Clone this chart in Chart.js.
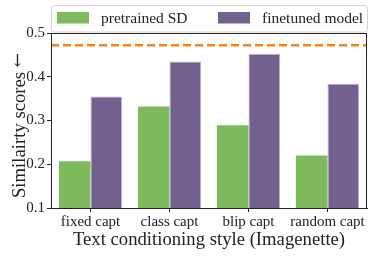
<!DOCTYPE html>
<html>
<head>
<meta charset="utf-8">
<script src="https://cdn.jsdelivr.net/npm/chart.js@4/dist/chart.umd.min.js"></script>
<style>
  html, body { margin: 0; padding: 0; background: #fff; }
  #wrap { width: 374px; height: 256px; }
</style>
</head>
<body>
<div id="wrap"><canvas id="chart"></canvas></div>
<script>
// Data
const categories = ["fixed capt", "class capt", "blip capt", "random capt"];
const pretrainedSD = [0.207, 0.332, 0.289, 0.220];
const finetunedModel = [0.355, 0.435, 0.452, 0.384];
const referenceLevel = 0.472;
const yTicks = [0.1, 0.2, 0.3, 0.4, 0.5];
const yTitle = "Similairty scores";
const yArrow = "\u2190";

const serif = "'Liberation Serif', 'DejaVu Serif', serif";
const ink = "#222";

// Dashed reference line, frame round the plot, y title and a framed legend
const extrasPlugin = {
    id: "extras",
    beforeDatasetsDraw(chart) {
        const ctx = chart.ctx;
        const area = chart.chartArea;
        const y = chart.scales.y.getPixelForValue(referenceLevel);
        ctx.save();
        ctx.strokeStyle = "#ff7f0e";
        ctx.lineWidth = 2.5;
        ctx.setLineDash([8, 4]);
        ctx.beginPath();
        ctx.moveTo(area.left, y);
        ctx.lineTo(area.right, y);
        ctx.stroke();
        ctx.restore();
    },
    afterDraw(chart) {
        const ctx = chart.ctx;
        const area = chart.chartArea;
        ctx.save();
        ctx.strokeStyle = ink;
        ctx.lineWidth = 1;
        ctx.strokeRect(area.left + 0.5, area.top + 0.5, area.right - area.left - 1, area.bottom - area.top);

        // y title: text in serif, arrow in DejaVu so it keeps a readable size
        ctx.save();
        ctx.translate(19, (area.top + area.bottom) / 2 + 5);
        ctx.rotate(-Math.PI / 2);
        ctx.fillStyle = ink;
        ctx.textBaseline = "middle";
        ctx.font = "18.7px " + serif;
        const w1 = ctx.measureText(yTitle + " ").width;
        ctx.font = "17px 'DejaVu Serif'";
        const w2 = ctx.measureText(yArrow).width;
        const start = -(w1 + w2) / 2;
        ctx.font = "18.7px " + serif;
        ctx.fillText(yTitle + " ", start, 1);
        ctx.font = "17px 'DejaVu Serif'";
        ctx.fillText(yArrow, start + w1, 0);
        ctx.restore();

        // legend
        ctx.strokeStyle = "#d4d4d4";
        ctx.fillStyle = "rgba(255,255,255,0.8)";
        ctx.beginPath();
        ctx.roundRect(area.left + 0.5, 5.5, area.right - area.left, 26.5, 3);
        ctx.fill();
        ctx.stroke();
        const offsets = [6, 167];
        ctx.font = "15.5px " + serif;
        ctx.textBaseline = "middle";
        chart.data.datasets.forEach((ds, i) => {
            const x = area.left + offsets[i];
            ctx.fillStyle = ds.backgroundColor;
            ctx.fillRect(x, 12, 32, 11.5);
            ctx.fillStyle = ink;
            ctx.fillText(ds.label, x + 44, 18.5);
        });
        ctx.restore();
    }
};

new Chart(document.getElementById("chart"), {
    type: "bar",
    data: {
        labels: categories,
        datasets: [
            {
                label: "pretrained SD",
                data: pretrainedSD,
                backgroundColor: "#7fba5e",
                borderWidth: 0,
                categoryPercentage: 0.8,
                barPercentage: 1.0
            },
            {
                label: "finetuned model",
                data: finetunedModel,
                backgroundColor: "#72608f",
                borderColor: "#b9adcc",
                borderWidth: 1,
                categoryPercentage: 0.8,
                barPercentage: 1.0
            }
        ]
    },
    options: {
        responsive: true,
        maintainAspectRatio: false,
        animation: false,
        layout: { padding: { left: 0, right: 7, top: 33, bottom: 0 } },
        plugins: {
            legend: { display: false },
            tooltip: { enabled: false }
        },
        scales: {
            x: {
                afterFit(scale) { scale.height = 48; },
                grid: { drawOnChartArea: false, drawTicks: true, tickLength: 4, offset: false, color: ink },
                border: { color: ink },
                ticks: { color: ink, font: { family: serif, size: 15 }, padding: 1, maxRotation: 0, autoSkip: false },
                title: { display: true, text: "Text conditioning style (Imagenette)", color: ink,
                         font: { family: serif, size: 18.7 }, padding: { top: 0, bottom: 5 } }
            },
            y: {
                min: 0.1,
                max: 0.5,
                afterFit(scale) { scale.width = 51; },
                afterBuildTicks(scale) { scale.ticks = yTicks.map(v => ({ value: v })); },
                grid: { drawOnChartArea: false, drawTicks: true, tickLength: 4, color: ink },
                border: { color: ink },
                ticks: { color: ink, font: { family: serif, size: 15 }, padding: 2,
                         callback: v => v.toFixed(1) },
                title: { display: false }
            }
        }
    },
    plugins: [extrasPlugin]
});
</script>
</body>
</html>
